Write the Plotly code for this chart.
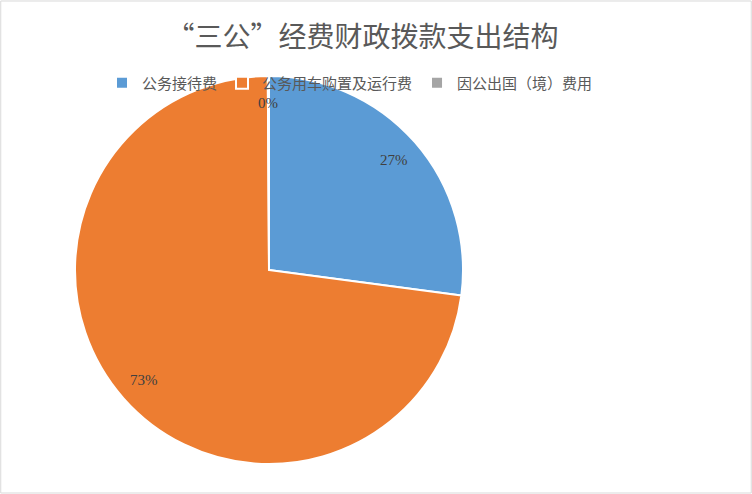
import math
import plotly.graph_objects as go

# "三公" expense structure (share of total, %)
categories = ["公务接待费", "公务用车购置及运行费", "因公出国（境）费用"]
values = [27.1, 72.8, 0.1]
colors = ["#5B9BD5", "#ED7D31", "#A5A5A5"]

W, H = 752, 494
cx, cy, radius = 269, 270, 194  # pie centre / radius in pixels

fig = go.Figure(
    go.Pie(
        labels=categories,
        values=values,
        sort=False,
        direction="clockwise",
        rotation=0,
        marker=dict(colors=colors, line=dict(color="white", width=2)),
        textinfo="none",
        hoverinfo="label+percent",
        domain=dict(
            x=[(cx - radius) / W, (cx + radius) / W],
            y=[1 - (cy + radius) / H, 1 - (cy - radius) / H],
        ),
    )
)

# percentage labels placed at the slice mid-angle, near the rim
total = sum(values)
cum = 0
for v in values:
    mid = 2 * math.pi * (cum + v / 2) / total
    cum += v
    k = 0.86 * radius
    px_x = cx + k * math.sin(mid)
    px_y = cy - k * math.cos(mid)
    fig.add_annotation(
        x=px_x / W,
        y=1 - px_y / H,
        xref="paper",
        yref="paper",
        xanchor="center",
        yanchor="middle",
        text=f"{round(v / total * 100)}%",
        showarrow=False,
        font=dict(family="Liberation Serif", size=15, color="#404040"),
    )

fig.add_shape(
    type="rect", xref="paper", yref="paper", x0=0.001, y0=0.002, x1=0.999, y1=0.998,
    line=dict(color="#D9D9D9", width=1),
)

fig.update_layout(
    width=W,
    height=H,
    margin=dict(l=0, r=0, t=0, b=0),
    paper_bgcolor="white",
    font=dict(family="Noto Sans CJK SC", color="#595959"),
    title=dict(
        text="“三公”经费财政拨款支出结构",
        x=0.482,
        xanchor="center",
        y=1 - 37 / H,
        yanchor="middle",
        font=dict(size=28, color="#595959"),
    ),
    legend=dict(
        orientation="h",
        x=350 / W,
        xanchor="center",
        y=1 - 83 / H,
        yanchor="middle",
        bgcolor="rgba(0,0,0,0)",
        font=dict(size=15, color="#595959"),
        itemwidth=30,
    ),
)

fig.write_html(
    "out.html",
    config={"displayModeBar": False},
    post_script="document.body.style.margin = '0';",
)
